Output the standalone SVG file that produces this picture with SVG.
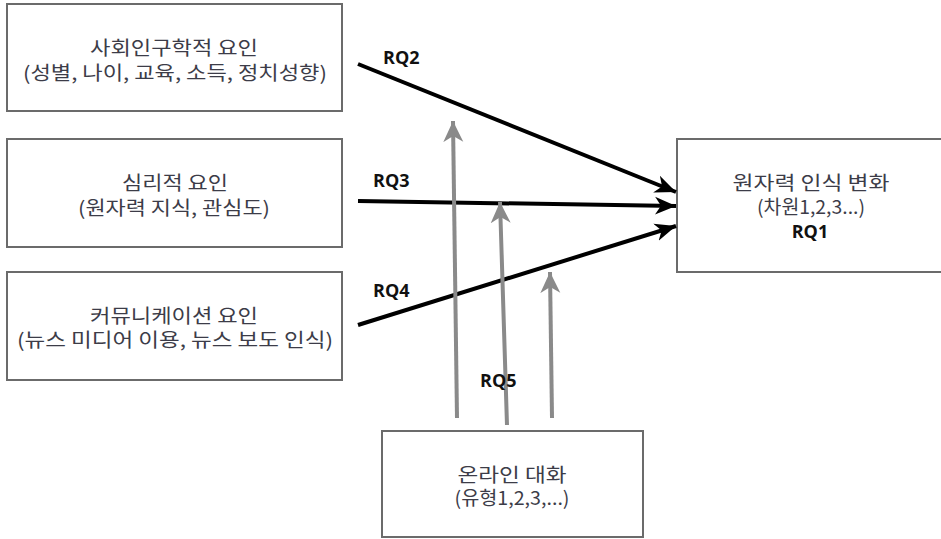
<svg xmlns="http://www.w3.org/2000/svg" width="941" height="539" viewBox="0 0 941 539">
<defs>
<style>
.box{fill:#fff;stroke:#6b6b6b;stroke-width:2}
.t{font-family:"Noto Sans CJK KR","Noto Sans CJK SC",sans-serif;font-size:19px;fill:#3c3c48;text-anchor:middle}
.rq{font-family:"Open Sans","Liberation Sans",sans-serif;font-weight:bold;font-size:18px;fill:#111}
.blk{stroke:#000;stroke-width:4;fill:none}
.gry{stroke:#8a8a8a;stroke-width:4;fill:none}
</style>
<marker id="ab" markerUnits="userSpaceOnUse" markerWidth="22" markerHeight="22" viewBox="0 0 22 22" refX="21" refY="11" orient="auto">
<path d="M0,2 L21,11 L0,20 L6,11 Z" fill="#000"/>
</marker>
<marker id="ag" markerUnits="userSpaceOnUse" markerWidth="22" markerHeight="22" viewBox="0 0 22 22" refX="21" refY="11" orient="auto">
<path d="M0,1 L21,11 L0,21 L6,11 Z" fill="#8a8a8a"/>
</marker>
</defs>
<rect width="941" height="539" fill="#fff"/>
<g id="n1">
<rect class="box" x="7" y="4" width="335" height="107"/>
<text class="t" x="174" y="55" textLength="168" lengthAdjust="spacingAndGlyphs">사회인구학적 요인</text>
<text class="t" x="175" y="80" textLength="304" lengthAdjust="spacingAndGlyphs">(성별, 나이, 교육, 소득, 정치성향)</text>
</g>
<g id="n2">
<rect class="box" x="7" y="139" width="335" height="108"/>
<text class="t" x="175" y="190" textLength="106" lengthAdjust="spacingAndGlyphs">심리적 요인</text>
<text class="t" x="174" y="215" textLength="192" lengthAdjust="spacingAndGlyphs">(원자력 지식, 관심도)</text>
</g>
<g id="n3">
<rect class="box" x="7" y="272" width="335" height="108"/>
<text class="t" x="174" y="323" textLength="168" lengthAdjust="spacingAndGlyphs">커뮤니케이션 요인</text>
<text class="t" x="175" y="347" textLength="316" lengthAdjust="spacingAndGlyphs">(뉴스 미디어 이용, 뉴스 보도 인식)</text>
</g>
<g id="n4">
<rect class="box" x="677" y="139" width="270" height="133"/>
<text class="t" x="811" y="190" textLength="157" lengthAdjust="spacingAndGlyphs">원자력 인식 변화</text>
<text class="t" x="811" y="214" textLength="108" lengthAdjust="spacingAndGlyphs">(차원1,2,3...)</text>
<text class="rq" x="810" y="238" text-anchor="middle">RQ1</text>
</g>
<g id="n5">
<rect class="box" x="382" y="431" width="261" height="106"/>
<text class="t" x="512" y="482" textLength="109" lengthAdjust="spacingAndGlyphs">온라인 대화</text>
<text class="t" x="512" y="505" textLength="115" lengthAdjust="spacingAndGlyphs">(유형1,2,3,...)</text>
</g>
<g id="connectors">
<line class="blk" x1="358" y1="64" x2="676" y2="192" marker-end="url(#ab)"/>
<line class="blk" x1="358" y1="201" x2="676" y2="206" marker-end="url(#ab)"/>
<line class="blk" x1="358" y1="325" x2="676" y2="226" marker-end="url(#ab)"/>
<line class="gry" x1="457" y1="418" x2="453" y2="121" marker-end="url(#ag)"/>
<line class="gry" x1="507" y1="425" x2="500" y2="202" marker-end="url(#ag)"/>
<line class="gry" x1="552" y1="418" x2="550" y2="272" marker-end="url(#ag)"/>
</g>
<g id="labels">
<text class="rq" x="383" y="64">RQ2</text>
<text class="rq" x="373" y="187">RQ3</text>
<text class="rq" x="373" y="297">RQ4</text>
<text class="rq" x="480" y="387">RQ5</text>
</g>
</svg>
